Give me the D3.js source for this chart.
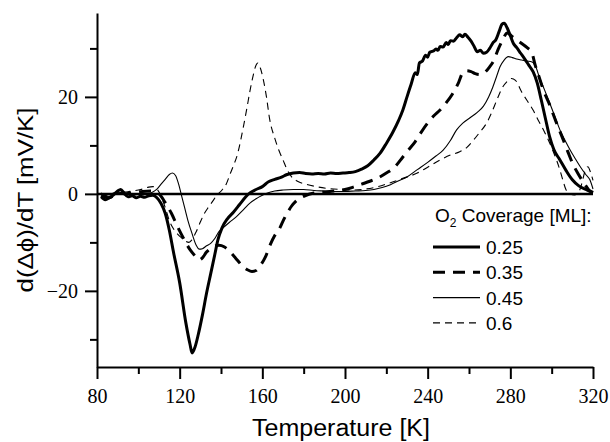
<!DOCTYPE html>
<html>
<head>
<meta charset="utf-8">
<script src="https://cdn.jsdelivr.net/npm/d3@7"></script>
<style>
  body { margin: 0; background: #fff; }
  .title { font-family: "Liberation Sans", Arial, sans-serif; fill: #000; }
</style>
</head>
<body>
<script>
// Values: [temperature K, d(delta phi)/dT mV/K]
let cov025 = [
  [82,-0.6],[84,-1.2],[86,-0.8],[88,-0.2],[90,0.6],[91.5,0.9],[93,0.2],[95,-0.6],[97,-0.4],[99,-0.8],
  [101,-0.5],[103,-0.7],[105,-0.4],[107,-0.3],[109,-0.8],[111,-2],[113,-4],[115,-7.5],[117,-12],[120,-18.3],
  [123,-26.6],[125,-31],[126,-32.8],[127.5,-31.5],[129,-29],[131,-25],[133,-20.5],[135,-16.5],[137,-12.5],[138.5,-9.5],
  [140.5,-7],[143,-5.2],[146,-3.8],[149,-2.2],[152,-0.6],[154,0.2],[157,0.9],[160,1.5],[163,2.5],[166,3],
  [169,3.4],[172,4],[175,4.3],[178,4.4],[181,4.2],[184,4.1],[187,4.2],[190,4.1],[193,4.3],[196,4.2],
  [199,4.3],[202,4.4],[205,4.6],[208,5.1],[211,5.8],[214,7],[217,8.4],[220,10.4],[223,12.6],[226,15.2],
  [228,17.3],[230,20],[232,22.6],[234,25],[235,24.6],[236,27],[237.5,27.4],[239,28.6],[240,28.2],[241,29.2],
  [243,29.5],[244,29.9],[245,29.6],[246,30.4],[247.5,30.3],[249,31.2],[250,30.8],[251,31.6],[252.5,31.5],[254,32.2],
  [255.5,32.8],[257,32.4],[258,32.9],[259.5,32.3],[261,31.5],[262.5,30.4],[264,29.3],[265.5,29.6],[267,29],[268.5,29.2],
  [270,30],[271.5,31.1],[273,31.8],[274.5,33.4],[276,35],[277,35.2],[278.5,34.2],[280,32.6],[281.5,31],[283,30.2],
  [285,29],[287,27.8],[289,26.5],[291,25.2],[293,22.9],[295,19.3],[297,15.5],[299,11.8],[301,9.2],[304,7],
  [307,4.8],[310,2.9],[313,1.7],[317,0.8],[320,0.2]
];

let cov035 = [
  [82,-0.3],[86,-0.8],[90,0.2],[94,0],[98,0.3],[102,0.5],[106,0.6],[109,0.3],[111,-0.5],[113,-1.8],
  [116,-4],[119,-6.8],[122,-9.3],[125,-11.5],[127.5,-12.8],[129.5,-13.6],[131,-13.2],[133,-12],[136,-11],[139,-10.6],
  [141.5,-10.9],[144,-11.8],[147,-13.2],[150,-14.7],[153,-15.7],[155,-16],[157,-15.8],[159,-14.8],[161.5,-13],[164,-10.3],
  [166,-8.6],[168.5,-7],[170,-5.6],[172,-4],[174,-2.6],[177,-1.2],[180,-0.5],[185,0.2],[190,0.4],[195,0.6],
  [200,0.9],[204,1.4],[208,2],[212,2.6],[216,3.3],[220,4.3],[224,5.5],[228,7.6],[231,9.2],[234,10.8],
  [237,12.8],[240,14.6],[243,16.1],[246,17.3],[249,18.8],[252,20.6],[255,23],[257,25],[259,25.4],[261,25.2],
  [263,24.8],[265,24.6],[267.5,25],[270,26.2],[272,27.5],[274,29.7],[276,31.5],[278.5,33.2],[281,32.4],[283,31.8],
  [285.5,31],[288,30.2],[290.5,29],[292,26.6],[294,24],[296,21.4],[299,18.4],[302,15],[305,11.8],[308,8.5],
  [310,6.4],[313,4],[316,2],[318,0.8],[320,0.3]
];

let cov045 = [
  [82,0],[86,-0.5],[90,0.3],[94,0.1],[98,-0.2],[102,0],[105,0.1],[107,0.4],[109,1],[111,2],
  [113,3],[115,4],[116.5,4.3],[118,3.8],[119.5,2],[121,-0.5],[122.5,-3],[124,-5.5],[126,-8.2],[128,-10.6],
  [129.5,-11.4],[131,-11.3],[133,-10.7],[135,-10.2],[137,-9.2],[139,-7.8],[141,-7],[144,-5.9],[147.5,-4.7],[151,-3.2],
  [154,-1.9],[157,-1],[160,-0.3],[162.5,0.2],[166,0.6],[170,0.8],[175,0.9],[180,0.9],[185,0.7],[190,0.6],
  [195,0.5],[200,0.5],[205,0.6],[210,0.7],[214,0.9],[218,1.3],[222,1.9],[226,2.7],[230,3.5],[235,5],
  [240,6.5],[244,7.8],[247.5,9],[251,11],[254,13.2],[257,14.6],[260.5,15.7],[264,16.8],[267,18.1],[269.5,20],
  [271.5,22],[273.5,24.4],[275,26.2],[277,27.6],[279,28.3],[281,28.1],[283,27.8],[285.5,27.6],[288,27.4],[290.5,27.2],
  [292.5,26],[294,24.1],[296.5,21.5],[299,18.8],[301.5,16],[304,13.2],[306.5,11],[309,9],[311.5,7.2],[314,5.5],
  [316.5,4],[318.5,2.9],[320,1]
];

let cov060 = [
  [82,0.2],[85,-0.4],[88,0.2],[91,0.5],[94,0.4],[97,0.6],[100,0.8],[103,1.1],[105,1.4],[107,1.5],
  [109,1],[111,-0.5],[113,-2.8],[115,-5.5],[117,-7.2],[119,-8.3],[121,-9.1],[123,-9.8],[124.5,-10],[126,-9.4],
  [128,-7.8],[130,-5.8],[132,-4],[134,-2.7],[136,-1.5],[138,-0.3],[140.5,0.8],[142.5,2],[144.5,4.2],[146,5.8],
  [148,8.2],[149.5,11],[151,14.2],[152.5,17.6],[154,21.2],[155.5,24.3],[157,26.6],[157.8,27],[159,26],[160.5,23.5],
  [162,20],[163.5,15.5],[166,11.5],[168,9],[170,7],[172,5],[174,3.6],[177,2.6],[181,2],[186,1.5],
  [192,1.1],[198,0.9],[204,0.8],[210,1],[216,1.5],[222,2.3],[228,3.2],[235,4.3],[240,5.5],[246,7],
  [251,8],[255.5,8.7],[259,9.6],[262,11],[265,12.6],[268.5,14.6],[271,16.8],[273.5,19.4],[276,21.8],[278.5,23.2],
  [280.5,23.8],[282.5,23.4],[285.5,21],[288,19.3],[291,17.3],[293.5,15.2],[296,13.2],[298.5,11],[300.5,9],[302.5,6.8],
  [304,4.9],[305.5,2.7],[307,0.8],[309,0],[311,-0.2],[313,0.3],[314.5,2],[316,4.5],[317.5,5.6],[319,4.2],
  [320,2.8]
];

let coverages = ['0.25', '0.35', '0.45', '0.6'];
let series = [cov025, cov035, cov045, cov060];

let xMajor = [80, 120, 160, 200, 240, 280, 320];
let xMinor = [100, 140, 180, 220, 260, 300];
let yMajor = [-20, 0, 20];
let yMinor = [-30, -10, 10, 30];

(function () {

  let width = 610, height = 442;

  // line style per coverage
  let styles = [
    { w: 3,   dash: null },
    { w: 3,   dash: '12,8' },
    { w: 1.1, dash: null },
    { w: 1.1, dash: '7,5' }
  ];

  let x = d3.scaleLinear().domain([80, 320]).range([97, 593]);
  let y = d3.scaleLinear().domain([-35.7, 37.3]).range([367, 13]);

  let svg = d3.select('body').append('svg')
      .attr('width', width)
      .attr('height', height);

  let line = d3.line()
      .x(d => x(d[0]))
      .y(d => y(d[1]))
      .curve(d3.curveMonotoneX);

  svg.append('g').selectAll('path.series').data(series)
    .enter().append('path')
    .attr('class', 'series')
    .attr('fill', 'none')
    .attr('stroke', '#000')
    .attr('stroke-linejoin', 'round')
    .attr('stroke-width', (d, i) => styles[i].w)
    .attr('stroke-dasharray', (d, i) => styles[i].dash)
    .attr('d', line);

  // zero line
  svg.append('line')
    .attr('x1', x(80)).attr('x2', x(320))
    .attr('y1', y(0)).attr('y2', y(0))
    .attr('stroke', '#000')
    .attr('stroke-width', 2.5);

  function styleAxis(g) {
    g.select('.domain').attr('stroke-width', 2);
    g.selectAll('.tick line').attr('stroke-width', 2);
    g.selectAll('.tick text')
      .attr('fill', '#000')
      .style('font-family', "'Liberation Serif', 'Times New Roman', serif")
      .style('font-size', '20px');
  }

  // x axis, major then minor ticks
  svg.append('g')
    .attr('transform', 'translate(0,' + y.range()[0] + ')')
    .call(d3.axisBottom(x).tickValues(xMajor).tickSize(12).tickSizeOuter(0).tickPadding(10))
    .call(styleAxis);
  svg.append('g')
    .attr('transform', 'translate(0,' + y.range()[0] + ')')
    .call(d3.axisBottom(x).tickValues(xMinor).tickSize(7).tickFormat(''))
    .call(g => g.select('.domain').remove())
    .call(styleAxis);

  // y axis
  svg.append('g')
    .attr('transform', 'translate(' + x.range()[0] + ',0)')
    .call(d3.axisLeft(y).tickValues(yMajor).tickSize(12).tickSizeOuter(0).tickPadding(7))
    .call(styleAxis);
  svg.append('g')
    .attr('transform', 'translate(' + x.range()[0] + ',0)')
    .call(d3.axisLeft(y).tickValues(yMinor).tickSize(7).tickFormat(''))
    .call(g => g.select('.domain').remove())
    .call(styleAxis);

  // axis titles
  svg.append('text')
    .attr('class', 'title')
    .attr('x', 341).attr('y', 436)
    .attr('text-anchor', 'middle')
    .attr('font-size', 23)
    .attr('textLength', 178)
    .attr('lengthAdjust', 'spacingAndGlyphs')
    .text('Temperature [K]');

  svg.append('text')
    .attr('class', 'title')
    .attr('transform', 'translate(33,200) rotate(-90)')
    .attr('text-anchor', 'middle')
    .attr('font-size', 22)
    .attr('textLength', 185)
    .attr('lengthAdjust', 'spacingAndGlyphs')
    .text('d(\u0394\u03d5)/dT [mV/K]');

  // legend
  let legend = svg.append('g').attr('class', 'legend');

  let lt = legend.append('text')
    .attr('class', 'title')
    .attr('x', 435).attr('y', 222)
    .attr('font-size', 19);
  lt.append('tspan').text('O');
  lt.append('tspan').attr('font-size', 12).attr('dy', 5).text('2');
  lt.append('tspan').attr('dy', -5).text(' Coverage [ML]:');

  let items = legend.selectAll('g.item').data(coverages)
    .enter().append('g')
    .attr('class', 'item')
    .attr('transform', (d, i) => 'translate(0,' + (247 + i * 25.3) + ')');

  items.append('line')
    .attr('x1', 433).attr('x2', 480)
    .attr('stroke', '#000')
    .attr('stroke-width', (d, i) => styles[i].w)
    .attr('stroke-dasharray', (d, i) => styles[i].dash);

  items.append('text')
    .attr('class', 'title')
    .attr('x', 486).attr('y', 7)
    .attr('font-size', 19)
    .text(d => d);

})();
</script>
</body>
</html>
